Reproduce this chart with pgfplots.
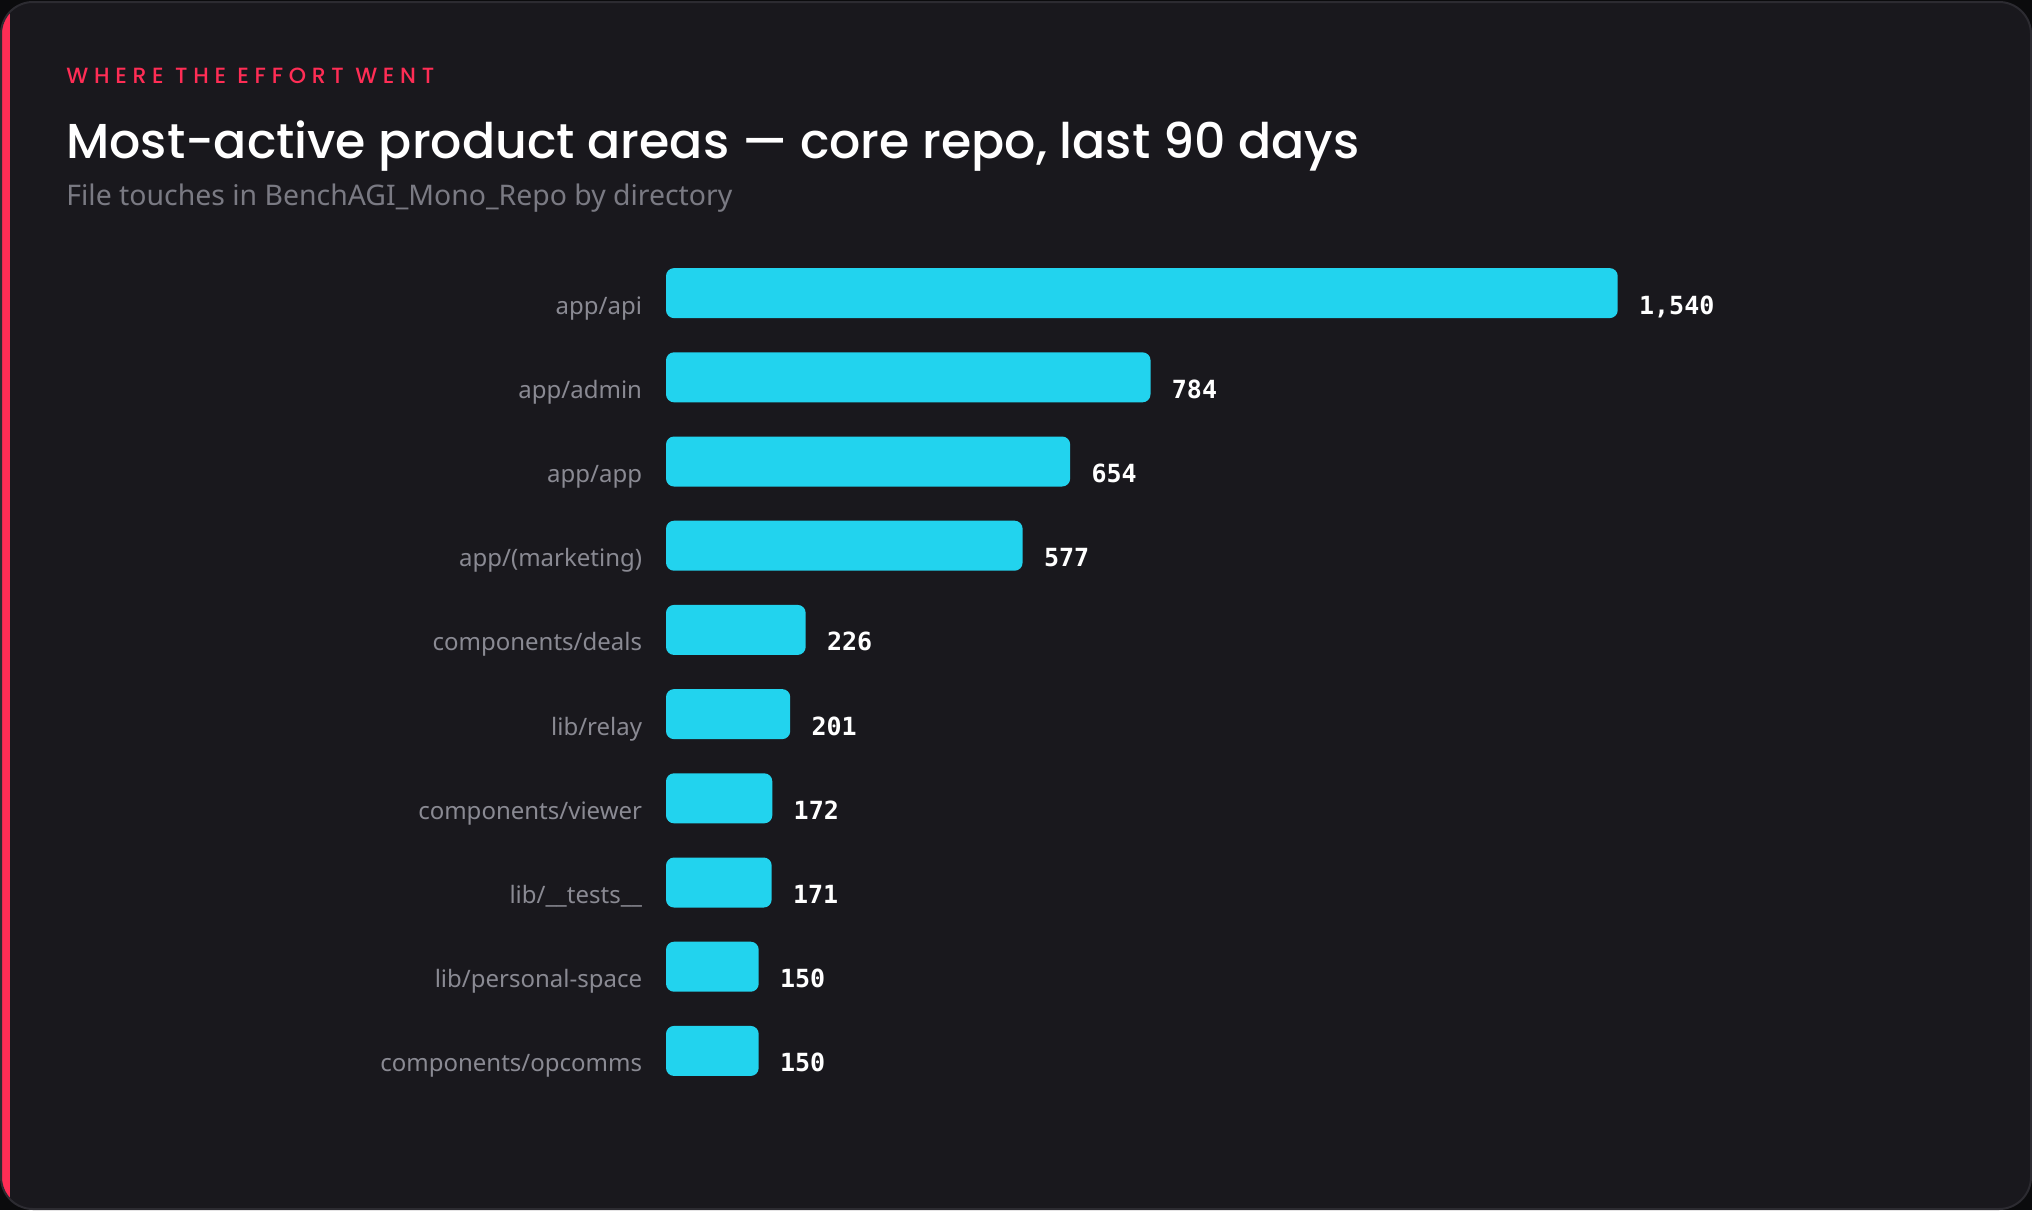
\documentclass[border=0pt]{standalone}
\usepackage{fontspec}
\usepackage{pgfplots}
\pgfplotsset{compat=1.18}
\setmainfont{Noto Sans}
\IfFontExistsTF{Poppins Medium}{%
  \newfontfamily\titlefont{Poppins Medium}%
  \newfontfamily\eyefont[LetterSpace=26]{Poppins Medium}%
}{%
  \newfontfamily\titlefont{Poppins}%
  \newfontfamily\eyefont[LetterSpace=26]{Poppins}%
}
\newfontfamily\monofont{DejaVu Sans Mono}
\definecolor{outerbg}{HTML}{0B0B0D}
\definecolor{cardbg}{HTML}{19181D}
\definecolor{cardborder}{HTML}{2C2B31}
\definecolor{accent}{HTML}{FF2D55}
\definecolor{barcol}{HTML}{22D3EE}
\definecolor{labgray}{HTML}{8A8A93}
\definecolor{subgray}{HTML}{7A7A83}
\begin{document}
\begin{tikzpicture}
% background in px units: 1px = 0.5pt, origin top-left
\begin{scope}[x=0.5pt,y=-0.5pt]
  \fill[outerbg] (0,0) rectangle (2032,1210);
  \fill[cardbg,rounded corners=16pt] (1,2) rectangle (2031,1209);
  \begin{scope}
    \clip[rounded corners=16pt] (1,2) rectangle (2031,1209);
    \fill[accent] (1,0) rectangle (10,1210);
  \end{scope}
  \draw[cardborder,line width=1pt,rounded corners=16pt] (1,2) rectangle (2031,1209);
  \node[anchor=base west,inner sep=0pt,text=accent] at (66,83) {\eyefont\fontsize{11}{13}\selectfont WHERE THE EFFORT WENT};
  \node[anchor=base west,inner sep=0pt,text=white] at (66,158) {\titlefont\fontsize{24.5}{28}\selectfont Most-active product areas — core repo, last 90 days};
  \node[anchor=base west,inner sep=0pt,text=subgray] at (66,205) {\fontsize{14.2}{17}\selectfont File touches in BenchAGI\_Mono\_Repo by directory};
\end{scope}
\begin{axis}[
  at={(333pt,-546.5pt)}, anchor=south west,
  scale only axis, width=618pt, height=421pt,
  xmin=0, xmax=2000, ymin=-0.5, ymax=9.5, y dir=reverse,
  axis line style={draw=none}, tick style={draw=none},
  xtick=\empty, ytick={0,...,9},
  yticklabels={app/api,app/admin,app/app,app/(marketing),components/deals,lib/relay,components/viewer,lib/\_\_tests\_\_,lib/personal-space,components/opcomms},
  yticklabel style={anchor=base east, inner sep=0pt, xshift=-7.5pt, yshift=-10.5pt, text=labgray, font=\fontsize{12}{14}\selectfont},
  xbar, bar width=25pt,
  point meta=x,
  nodes near coords={\pgfmathprintnumber[assume math mode=true,1000 sep={,}]{\pgfplotspointmeta}},
  nodes near coords style={anchor=base west, inner sep=0pt, xshift=10.5pt, yshift=-10.5pt, text=white, font=\monofont\bfseries\fontsize{12.5}{14}\selectfont},
  clip=false,
]
\addplot[fill=barcol, draw=none, rounded corners=4pt] coordinates {
(1540,0) (784,1) (654,2) (577,3) (226,4) (201,5) (172,6) (171,7) (150,8) (150,9)
};
\end{axis}
\end{tikzpicture}
\end{document}
